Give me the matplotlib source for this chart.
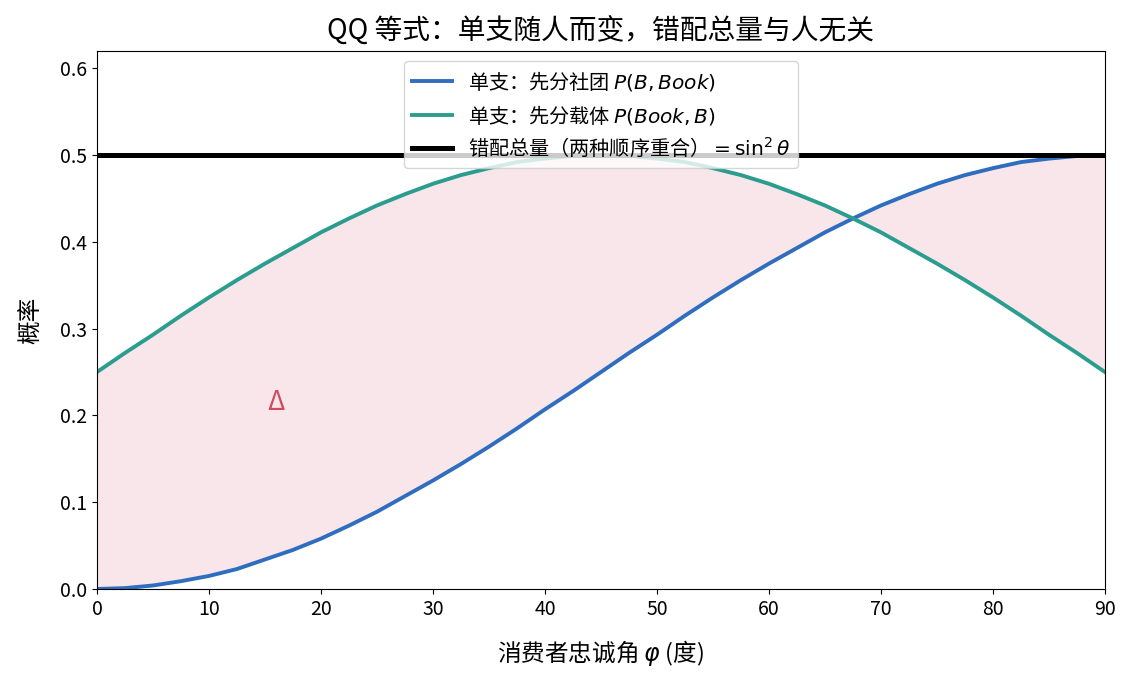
import numpy as np
import matplotlib
matplotlib.use('Agg')
import matplotlib.pyplot as plt

plt.rcParams['font.family'] = ['Noto Sans CJK SC', 'DejaVu Sans']
plt.rcParams['axes.unicode_minus'] = False

# --- 数据 (读图得到) ---
phi_deg = [0, 2.5, 5, 7.5, 10, 12.5, 15, 17.5, 20, 22.5, 25, 27.5, 30, 32.5, 35, 37.5,
           40, 42.5, 45, 47.5, 50, 52.5, 55, 57.5, 60, 62.5, 65, 67.5, 70, 72.5, 75,
           77.5, 80, 82.5, 85, 87.5, 90]
# 先分社团 P(B, Book)
p_b_book = [0.000, 0.001, 0.004, 0.009, 0.015, 0.023, 0.034, 0.045, 0.058, 0.073,
            0.089, 0.107, 0.125, 0.144, 0.164, 0.185, 0.207, 0.228, 0.250, 0.272,
            0.293, 0.315, 0.336, 0.356, 0.375, 0.393, 0.411, 0.427, 0.442, 0.455,
            0.467, 0.477, 0.485, 0.492, 0.496, 0.499, 0.500]
# 先分载体 P(Book, B)
p_book_b = [0.250, 0.272, 0.293, 0.315, 0.336, 0.356, 0.375, 0.393, 0.411, 0.427,
            0.442, 0.455, 0.467, 0.477, 0.485, 0.492, 0.496, 0.499, 0.500, 0.499,
            0.496, 0.492, 0.485, 0.477, 0.467, 0.455, 0.442, 0.427, 0.411, 0.393,
            0.375, 0.356, 0.336, 0.315, 0.293, 0.272, 0.250]
total_mismatch = 0.5
delta_pos = (16, 0.215)

fig = plt.figure(figsize=(11.34, 6.82), dpi=100)
ax = fig.add_axes([0.0855, 0.1364, 0.8889, 0.7888])

ax.fill_between(phi_deg, p_b_book, p_book_b, color='#c9456a', alpha=0.13, linewidth=0)
ax.plot(phi_deg, p_b_book, color='#2f6ebf', lw=2.8, label=r'单支：先分社团 $P(B, Book)$')
ax.plot(phi_deg, p_book_b, color='#2a9d8f', lw=2.8, label=r'单支：先分载体 $P(Book, B)$')
ax.axhline(total_mismatch, color='black', lw=3.6, label=r'错配总量（两种顺序重合）$= \sin^2\theta$')

ax.text(delta_pos[0], delta_pos[1], 'Δ', color='#d1495b', fontsize=19, ha='center', va='center')

ax.set_xlim(0, 90)
ax.set_ylim(0, 0.62)
ax.set_xlabel('消费者忠诚角 $\\varphi$ (度)', fontsize=17, labelpad=13)
ax.set_ylabel('概率', fontsize=17, labelpad=12)
ax.set_title('QQ 等式：单支随人而变，错配总量与人无关', fontsize=20, pad=8)
ax.tick_params(labelsize=14)
ax.legend(loc='upper center', fontsize=14.5)

fig.savefig('out.png', dpi=100)
